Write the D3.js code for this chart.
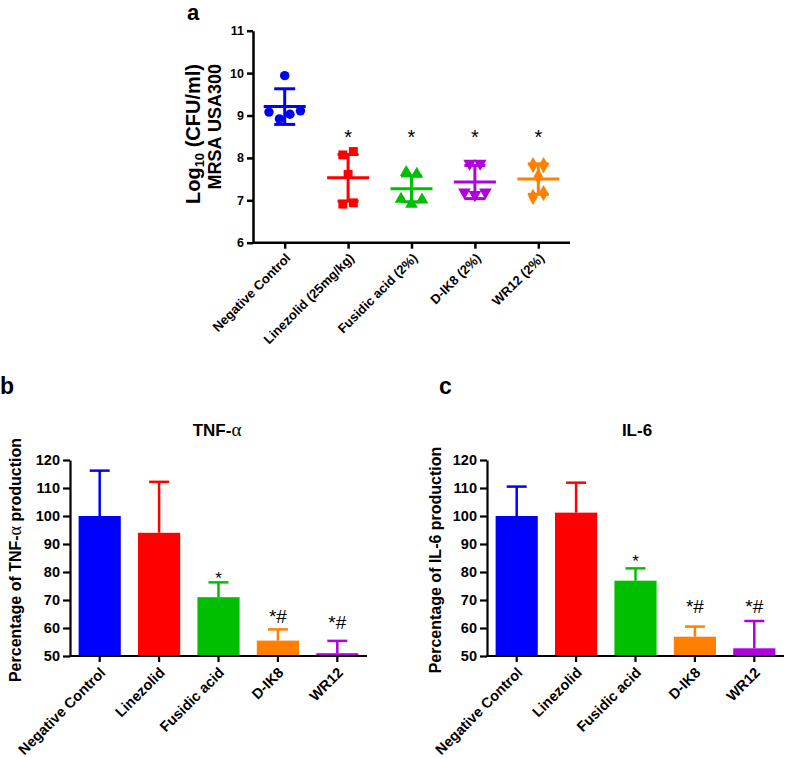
<!DOCTYPE html>
<html>
<head>
<meta charset="utf-8">
<script src="https://cdn.jsdelivr.net/npm/d3@7"></script>
<style>
  html, body { margin: 0; padding: 0; background: #fff; }
  svg { display: block; font-family: "Liberation Sans", Arial, sans-serif; }
</style>
</head>
<body>
<svg id="chart" width="787" height="758"></svg>
<script>
// ---------------- DATA ----------------
const colorsA = ["#0000ff", "#ff0000", "#00bf00", "#b000e0", "#ff8000"];
const colorsBC = ["#0000ff", "#ff0000", "#00bf00", "#ff8000", "#b000e0"];

// Panel a
const catsA = ["Negative Control", "Linezolid (25mg/kg)", "Fusidic acid (2%)", "D-IK8 (2%)", "WR12 (2%)"];
const ptsNegative = [9.94, 9.08, 8.92, 9.03, 9.11];
const ptsLinezolid = [8.07, 8.15, 7.61, 6.91, 6.94];
const ptsFusidic = [7.66, 7.62, 7.03, 6.91, 7.01];
const ptsDIK8 = [7.87, 7.87, 7.19, 7.13, 7.19];
const ptsWR12 = [7.83, 7.83, 7.56, 7.08, 7.17];
const meansA = [9.21, 7.53, 7.27, 7.43, 7.50];
const sdsA = [0.42, 0.55, 0.305, 0.39, 0.36];
const marksA = ["", "*", "*", "*", "*"];
const markLevelA = 8.33;
const ticksA = [6, 7, 8, 9, 10, 11];
const shapesA = ["circle", "square", "triangle", "triangleDown", "diamond"];

// Panels b & c
const catsBC = ["Negative Control", "Linezolid", "Fusidic acid", "D-IK8", "WR12"];
const tnfMean = [100, 94.0, 71.0, 55.5, 51.0];
const tnfSd = [16.2, 18.2, 5.3, 4.0, 4.4];
const tnfMarks = ["", "", "*", "*#", "*#"];
const tnfMarkLevel = [null, null, 75.7, 61.8, 59.5];
const il6Mean = [100, 101.2, 76.9, 56.9, 52.75];
const il6Sd = [10.5, 10.7, 4.4, 3.6, 9.75];
const il6Marks = ["", "", "*", "*#", "*#"];
const il6MarkLevel = [null, null, 81.8, 65.2, 65.2];
const ticksBC = [50, 60, 70, 80, 90, 100, 110, 120];

// ---------------- DRAW ----------------
const svg = d3.select("#chart");
svg.append("rect").attr("width", 787).attr("height", 758).attr("fill", "#fff");

function styleAxis(g, sw) {
  g.select(".domain").attr("stroke", "#000").attr("stroke-width", sw);
  g.selectAll(".tick line").attr("stroke", "#000").attr("stroke-width", sw);
}

// ===== Panel a =====
(function () {
  const left = 253, right = 570, top = 30.7, bottom = 242.7;
  const x = d3.scalePoint().domain(catsA).range([left, right]).padding(0.5);
  const y = d3.scaleLinear().domain([6, 11]).range([bottom, top]);
  const g = svg.append("g");

  const ya = g.append("g").attr("transform", `translate(${left},0)`)
    .call(d3.axisLeft(y).tickValues(ticksA).tickFormat(d3.format("d")).tickSize(6).tickSizeOuter(0).tickPadding(3));
  styleAxis(ya, 2.5);
  ya.selectAll("text").attr("font-size", 12.5).attr("font-weight", "bold").attr("fill", "#000")
    .attr("font-family", "Liberation Sans, Arial, sans-serif");

  const xa = g.append("g").attr("transform", `translate(0,${bottom})`)
    .call(d3.axisBottom(x).tickSize(6).tickSizeOuter(0));
  styleAxis(xa, 2.5);
  xa.select(".domain").attr("d", `M${left},0H${right}`);
  xa.selectAll("text").attr("font-size", 13).attr("font-weight", "bold").attr("fill", "#000")
    .attr("font-family", "Liberation Sans, Arial, sans-serif")
    .attr("text-anchor", "end").attr("x", 0).attr("y", 0).attr("dy", "0.35em")
    .attr("transform", "translate(3,13) rotate(-45)");

  const groups = [ptsNegative, ptsLinezolid, ptsFusidic, ptsDIK8, ptsWR12];
  const symTypes = {
    circle: d3.symbolCircle, square: d3.symbolSquare, triangle: d3.symbolTriangle,
    triangleDown: d3.symbolTriangle, diamond: d3.symbolDiamond
  };
  const symSizes = { circle: 70, square: 80, triangle: 70, triangleDown: 70, diamond: 75 };
  const spread = 10.5;
  const thr = 9 / (y(6) - y(7));

  groups.forEach((vals, i) => {
    const cx = x(catsA[i]);
    const col = colorsA[i];
    const idx = vals.map((v, k) => k).sort((a, b) => vals[a] - vals[b]);
    const clusters = [];
    idx.forEach(k => {
      const last = clusters[clusters.length - 1];
      if (last && Math.abs(vals[k] - vals[last[last.length - 1]]) < thr) last.push(k);
      else clusters.push([k]);
    });
    const offsets = new Array(vals.length).fill(0);
    clusters.forEach(cl => {
      cl.sort((a, b) => a - b);
      cl.forEach((k, j) => { offsets[k] = (j - (cl.length - 1) / 2) * spread; });
    });
    const shape = shapesA[i];
    const sym = d3.symbol().type(symTypes[shape]).size(symSizes[shape]);
    vals.forEach((v, k) => {
      const rot = shape === "triangleDown" ? " rotate(180)" : "";
      g.append("path").attr("d", sym())
        .attr("transform", `translate(${cx + offsets[k]},${y(v)})${rot}`)
        .attr("fill", col);
    });
    const m = meansA[i], s = sdsA[i];
    g.append("line").attr("x1", cx - 21).attr("x2", cx + 21).attr("y1", y(m)).attr("y2", y(m))
      .attr("stroke", col).attr("stroke-width", 3);
    g.append("line").attr("x1", cx).attr("x2", cx).attr("y1", y(m + s)).attr("y2", y(m - s))
      .attr("stroke", col).attr("stroke-width", 3);
    [m + s, m - s].forEach(v => {
      g.append("line").attr("x1", cx - 10.5).attr("x2", cx + 10.5).attr("y1", y(v)).attr("y2", y(v))
        .attr("stroke", col).attr("stroke-width", 3);
    });
    if (marksA[i]) {
      g.append("text").attr("x", cx).attr("y", y(markLevelA)).attr("text-anchor", "middle")
        .attr("font-size", 20).attr("fill", "#000").text(marksA[i]);
    }
  });

  const t1 = g.append("text").attr("transform", "translate(200,64) rotate(-90)")
    .attr("text-anchor", "end").attr("font-size", 20).attr("font-weight", "bold");
  t1.append("tspan").text("Log");
  t1.append("tspan").attr("font-size", 13).attr("dy", 4).text("10");
  t1.append("tspan").attr("dy", -4).text(" (CFU/ml)");
  g.append("text").attr("transform", "translate(221,64) rotate(-90)").attr("text-anchor", "end")
    .attr("font-size", 18).attr("font-weight", "bold").text("MRSA USA300");

  g.append("text").attr("x", 187).attr("y", 20).attr("font-size", 22).attr("font-weight", "bold").text("a");
})();

// ===== Panels b & c =====
function barPanel(opts) {
  const { left, right, top, bottom, means, sds, marks, markLevel, title, titleAlpha, ylabelParts, ylabX, letter, letterX, titleX } = opts;
  const x = d3.scaleBand().domain(catsBC).range([left, right]).paddingInner(0.29).paddingOuter(0.145);
  const y = d3.scaleLinear().domain([50, 120]).range([bottom, top]);
  const g = svg.append("g");

  catsBC.forEach((c, i) => {
    const bx = x(c), bw = x.bandwidth(), cx = bx + bw / 2;
    const errTop = y(means[i] + sds[i]);
    g.append("line").attr("x1", cx).attr("x2", cx).attr("y1", y(means[i])).attr("y2", errTop)
      .attr("stroke", colorsBC[i]).attr("stroke-width", 2.5);
    g.append("line").attr("x1", cx - 10).attr("x2", cx + 10).attr("y1", errTop).attr("y2", errTop)
      .attr("stroke", colorsBC[i]).attr("stroke-width", 2.5);
    g.append("rect").attr("x", bx).attr("width", bw).attr("y", y(means[i]))
      .attr("height", y(50) - y(means[i])).attr("fill", colorsBC[i]);
    if (marks[i]) {
      const big = marks[i].length > 1;
      g.append("text").attr("x", cx).attr("y", y(markLevel[i])).attr("text-anchor", "middle")
        .attr("font-size", big ? 19 : 17).attr("fill", "#000").text(marks[i]);
    }
  });

  const ya = g.append("g").attr("transform", `translate(${left},0)`)
    .call(d3.axisLeft(y).tickValues(ticksBC).tickSize(7).tickSizeOuter(0).tickPadding(3));
  styleAxis(ya, 2.2);
  ya.selectAll("text").attr("font-size", 14.5).attr("font-weight", "bold").attr("fill", "#000")
    .attr("font-family", "Liberation Sans, Arial, sans-serif");

  const xa = g.append("g").attr("transform", `translate(0,${bottom})`)
    .call(d3.axisBottom(x).tickSize(6).tickSizeOuter(0));
  styleAxis(xa, 2.2);
  xa.select(".domain").attr("d", `M${left},0H${right}`);
  xa.selectAll("text").attr("font-size", 14.5).attr("font-weight", "bold").attr("fill", "#000")
    .attr("font-family", "Liberation Sans, Arial, sans-serif")
    .attr("text-anchor", "end").attr("x", 0).attr("y", 0).attr("dy", "0.35em")
    .attr("transform", "translate(3,14) rotate(-45)");

  const tt = g.append("text").attr("x", titleX).attr("y", 436).attr("text-anchor", "middle")
    .attr("font-size", 17).attr("font-weight", "bold");
  tt.append("tspan").text(title);
  if (titleAlpha) tt.append("tspan").attr("font-family", "Liberation Serif, serif").attr("font-weight", "normal")
    .attr("font-size", 19).text("α");

  const yl = g.append("text").attr("transform", `translate(${ylabX},${(top + bottom) / 2 + 2}) rotate(-90)`)
    .attr("text-anchor", "middle").attr("font-size", 16).attr("font-weight", "bold");
  ylabelParts.forEach(p => {
    const ts = yl.append("tspan").text(p.t);
    if (p.serif) ts.attr("font-family", "Liberation Serif, serif").attr("font-weight", "normal").attr("font-size", 18);
  });

  g.append("text").attr("x", letterX).attr("y", 394).attr("font-size", 23).attr("font-weight", "bold").text(letter);
}

barPanel({
  left: 70, right: 367, top: 460, bottom: 656,
  means: tnfMean, sds: tnfSd, marks: tnfMarks, markLevel: tnfMarkLevel,
  title: "TNF-", titleAlpha: true, titleX: 217,
  ylabelParts: [{ t: "Percentage of TNF-" }, { t: "α", serif: true }, { t: " production" }],
  ylabX: 21, letter: "b", letterX: 0
});
barPanel({
  left: 487, right: 784, top: 460, bottom: 656,
  means: il6Mean, sds: il6Sd, marks: il6Marks, markLevel: il6MarkLevel,
  title: "IL-6", titleAlpha: false, titleX: 637,
  ylabelParts: [{ t: "Percentage of IL-6 production" }],
  ylabX: 441, letter: "c", letterX: 439
});
</script>
</body>
</html>
